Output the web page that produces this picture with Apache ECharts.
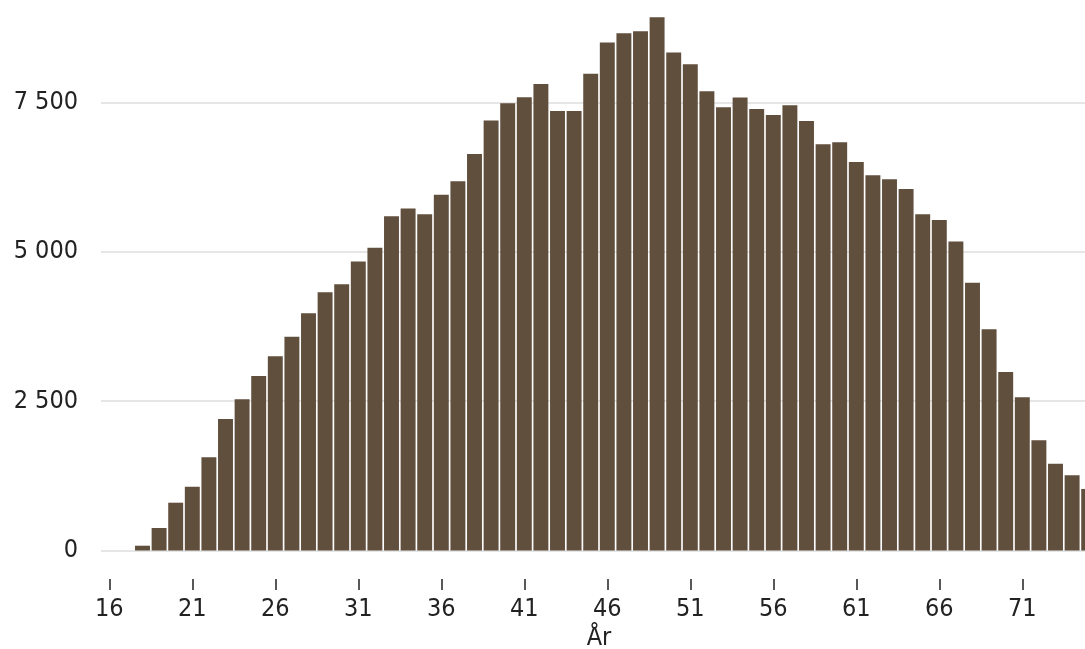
<!DOCTYPE html>
<html>
<head>
    <meta charset="utf-8">
    <script src="https://cdn.jsdelivr.net/npm/echarts@6/dist/echarts.min.js"></script>
    <style>
        html, body {
            margin: 0;
            padding: 0;
            background: #fff;
        }
        #chart1 {
            width: 1085px;
            height: 649px;
        }
    </style>
</head>
<body>
<div id="chart1"></div>
<script>
    // ålder (år)
    var ages = ['16', '17', '18', '19', '20', '21', '22', '23', '24', '25',
        '26', '27', '28', '29', '30', '31', '32', '33', '34', '35',
        '36', '37', '38', '39', '40', '41', '42', '43', '44', '45',
        '46', '47', '48', '49', '50', '51', '52', '53', '54', '55',
        '56', '57', '58', '59', '60', '61', '62', '63', '64', '65',
        '66', '67', '68', '69', '70', '71', '72', '73', '74', '75'];

    // antal per ålder
    var antal = [0, 0, 80, 377, 800, 1068, 1560, 2201, 2531, 2921,
        3251, 3579, 3971, 4322, 4456, 4835, 5069, 5594, 5722, 5628,
        5956, 6180, 6637, 7195, 7486, 7586, 7809, 7357, 7357, 7977,
        8501, 8658, 8691, 8926, 8333, 8139, 7687, 7419, 7580, 7391,
        7290, 7452, 7190, 6800, 6833, 6503, 6280, 6213, 6052, 5628,
        5533, 5170, 4483, 3703, 2988, 2564, 1845, 1453, 1259, 1030];

    var yMax = 10000;
    var yStep = 2500;

    var chart1 = echarts.init(document.getElementById('chart1'));

    var textFont = {
        fontFamily: '"DejaVu Sans Condensed", "DejaVu Sans", sans-serif',
        fontSize: 25,
        color: '#222'
    };

    var option = {
        animation: false,
        grid: {
            left: 101,
            right: -12,
            top: -47,
            bottom: 98.5,
            containLabel: false,
            outerBoundsMode: 'none'
        },
        xAxis: {
            type: 'category',
            data: ages,
            name: 'År',
            nameLocation: 'middle',
            nameGap: 30,
            nameTextStyle: textFont,
            offset: 28.5,
            axisLine: {show: false, onZero: false},
            axisTick: {
                show: true,
                alignWithLabel: true,
                interval: 4,
                length: 11,
                lineStyle: {color: '#222', width: 1.5}
            },
            axisLabel: {
                interval: 4,
                margin: 17.5,
                fontFamily: textFont.fontFamily,
                fontSize: textFont.fontSize,
                color: textFont.color
            },
            splitLine: {show: false}
        },
        yAxis: {
            type: 'value',
            min: 0,
            max: yMax,
            interval: yStep,
            axisLine: {show: false},
            axisTick: {show: false},
            axisLabel: {
                margin: 23,
                fontFamily: textFont.fontFamily,
                fontSize: textFont.fontSize,
                color: textFont.color,
                formatter: function (v) {
                    return String(v).replace(/\B(?=(\d{3})+(?!\d))/g, ' ');
                }
            },
            splitLine: {
                lineStyle: {color: '#dedede', width: 1.5}
            }
        },
        series: [
            {
                type: 'bar',
                data: antal,
                barCategoryGap: '10%',
                itemStyle: {
                    color: '#614f3e'
                }
            }
        ]
    };

    chart1.setOption(option);
    window.addEventListener('resize', function () {
        chart1.resize();
    });
</script>
</body>
</html>
